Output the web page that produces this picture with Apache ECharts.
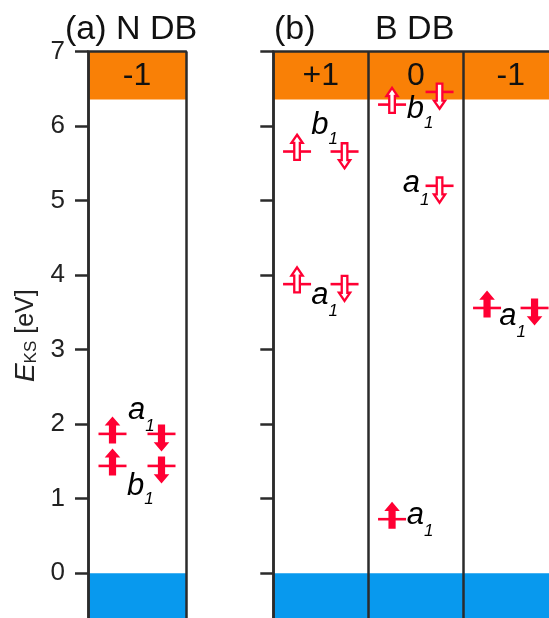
<!DOCTYPE html>
<html>
<head>
<meta charset="utf-8">
<script src="https://cdn.jsdelivr.net/npm/echarts@6/dist/echarts.min.js"></script>
<style>
  html, body { margin: 0; padding: 0; background: #fff; }
  #chart { width: 549px; height: 618px; }
</style>
</head>
<body>
<div id="chart"></div>
<script>
// Kohn–Sham single-particle levels of the N and B dangling-bond defects
const yTicks = [0, 1, 2, 3, 4, 5, 6, 7];
const cbEdge = 6.36;   // conduction band minimum, eV
const vbEdge = 0;      // valence band maximum, eV
const chargesN = ['-1'];
const chargesB = ['+1', '0', '-1'];

// N DB levels: charge column, spin channel, energy (eV), occupied
const nLevelCol  = [0, 0, 0, 0];
const nLevelSpin = ['up', 'up', 'down', 'down'];
const nLevelE    = [1.87, 1.44, 1.87, 1.44];
const nLevelOcc  = [1, 1, 1, 1];

// B DB levels
const bLevelCol  = [0, 0, 0, 0, 1, 1, 1, 1, 2, 2];
const bLevelSpin = ['up', 'down', 'up', 'down', 'up', 'down', 'down', 'up', 'up', 'down'];
const bLevelE    = [5.66, 5.66, 3.88, 3.88, 6.29, 6.46, 5.20, 0.725, 3.56, 3.56];
const bLevelOcc  = [0, 0, 0, 0, 0, 0, 0, 1, 1, 1];

// orbital symmetry labels: letter, column, energy of the level they annotate
const nOrbName = ['a', 'b'];
const nOrbCol  = [0, 0];
const nOrbE    = [1.87, 1.44];
const bOrbName = ['b', 'a', 'b', 'a', 'a', 'a'];
const bOrbCol  = [0, 0, 1, 1, 1, 2];
const bOrbE    = [5.66, 3.88, 6.29, 5.20, 0.725, 3.56];

// label placement relative to column centre / level line (px)
const nOrbNudge = [[-0.5, -24], [-1.5, 20]];
const bOrbNudge = [[-1, -26], [-1, 11], [-0.5, 5], [-4.5, -2], [-0.5, -3.5], [-3, 8.5]];

const FONT = 'Arial, "Liberation Sans", Helvetica, sans-serif';
const RED = '#ff0033';
const ORANGE = '#f98006';
const BLUE = '#0899ee';
const FRAME = '#2b2b2b';

const chart = echarts.init(document.getElementById('chart'), null, { renderer: 'canvas' });

function levelData(cols, spins, es, occ) {
  return es.map((e, i) => [cols[i] + (spins[i] === 'up' ? 0.25 : 0.75), e, spins[i] === 'up' ? 1 : 0, occ[i]]);
}

function renderLevel(params, api) {
  const up = api.value(2) === 1;
  const filled = api.value(3) === 1;
  const p = api.coord([api.value(0), api.value(1)]);
  const cx = p[0], cy = p[1];
  const s = up ? -1 : 1;
  const hw = filled ? 7.8 : 5.6;
  const sw = filled ? 3.6 : 2.8;
  const tip = (filled ? 17.5 : 16.8) * s;
  const base = (filled ? 8.3 : 8.6) * s;
  const tail = (filled ? -9.5 : -8.3) * s;
  const pts = [
    [cx, cy + tip], [cx + hw, cy + base], [cx + sw, cy + base], [cx + sw, cy + tail],
    [cx - sw, cy + tail], [cx - sw, cy + base], [cx - hw, cy + base]
  ];
  return {
    type: 'group',
    children: [
      { type: 'line', shape: { x1: cx - 14, y1: cy, x2: cx + 14, y2: cy },
        style: { stroke: RED, lineWidth: 2.6 } },
      { type: 'polygon', shape: { points: pts },
        style: filled ? { fill: RED } : { fill: '#fff', stroke: RED, lineWidth: 2.3, lineJoin: 'miter' } }
    ]
  };
}

function renderBands(labels) {
  return function (params, api) {
    const c = api.value(0);
    const tl = api.coord([c, 7]);
    const br = api.coord([c + 1, cbEdge]);
    const vt = api.coord([c, vbEdge]);
    const vb = api.coord([c + 1, -1]);
    return {
      type: 'group',
      children: [
        { type: 'rect', shape: { x: tl[0], y: tl[1], width: br[0] - tl[0], height: br[1] - tl[1] },
          style: { fill: ORANGE } },
        { type: 'rect', shape: { x: vt[0], y: vt[1], width: vb[0] - vt[0], height: vb[1] - vt[1] },
          style: { fill: BLUE } },
        { type: 'text', x: (tl[0] + br[0]) / 2, y: (tl[1] + br[1]) / 2 + 1,
          style: { text: labels[c], fontSize: 32, fontFamily: FONT, fill: '#111',
                   align: 'center', verticalAlign: 'middle' } }
      ]
    };
  };
}

function renderOrbital(names, nudges) {
  return function (params, api) {
    const i = params.dataIndex;
    const p = api.coord([api.value(0) + 0.5, api.value(1)]);
    const x = p[0] + nudges[i][0];
    const y = p[1] + nudges[i][1];
    const subDy = names[i] === 'a' ? 16 : 13.5;
    return {
      type: 'group',
      children: [
        { type: 'text', x: x, y: y,
          style: { text: names[i], fontSize: 31, fontStyle: 'italic', fontFamily: FONT,
                   fill: '#000', align: 'center', verticalAlign: 'middle' } },
        { type: 'text', x: x + 13.5, y: y + subDy,
          style: { text: '1', fontSize: 17, fontStyle: 'italic', fontFamily: FONT,
                   fill: '#000', align: 'center', verticalAlign: 'middle' } }
      ]
    };
  };
}

const axisLineStyle = { color: FRAME, width: 2.5 };

function xAxisFor(gridIndex, n) {
  return {
    gridIndex, type: 'value', min: 0, max: n, interval: 1, position: 'top', z: 10,
    axisLine: { show: true, onZero: false, lineStyle: axisLineStyle },
    axisTick: { show: false }, axisLabel: { show: false },
    splitLine: { show: true, showMinLine: true, showMaxLine: true, lineStyle: axisLineStyle }
  };
}

function yAxisFor(gridIndex, withLabels) {
  const ax = {
    gridIndex, type: 'value', min: -1, max: 7, interval: 1, z: 10,
    axisLine: { show: true, onZero: false, lineStyle: axisLineStyle },
    axisTick: { show: true, inside: false, length: 13, lineStyle: axisLineStyle },
    axisLabel: {
      show: withLabels, margin: 23, fontSize: 26, fontFamily: FONT, color: '#222',
      formatter: v => (yTicks.indexOf(v) >= 0 ? String(v) : '')
    },
    splitLine: { show: false }
  };
  if (withLabels) {
    ax.name = '{e|E}{k|KS} [eV]';
    ax.nameLocation = 'middle';
    ax.nameRotate = 90;
    ax.nameGap = 48;
    ax.nameTextStyle = {
      fontSize: 25, fontFamily: FONT, color: '#222', padding: [0, 0, 0, 28],
      rich: {
        e: { fontSize: 28, fontStyle: 'italic', fontFamily: FONT, color: '#222' },
        k: { fontSize: 17, fontFamily: FONT, color: '#222', verticalAlign: 'bottom', padding: [6, 0, 0, 0] }
      }
    };
  }
  return ax;
}

const titleStyle = { fontSize: 34, fontWeight: 'normal', fontFamily: FONT, color: '#111' };

chart.setOption({
  animation: false,
  backgroundColor: '#fff',
  title: [
    { text: '(a) N DB', left: 60, top: 8, textStyle: titleStyle },
    { text: '(b)', left: 269, top: 8, textStyle: titleStyle },
    { text: 'B DB', left: 370, top: 8, textStyle: titleStyle }
  ],
  grid: [
    { left: 88, top: 51.7, width: 98, height: 596, outerBoundsMode: 'none' },
    { left: 273.3, top: 51.7, width: 285, height: 596, outerBoundsMode: 'none' }
  ],
  xAxis: [xAxisFor(0, chargesN.length), xAxisFor(1, chargesB.length)],
  yAxis: [yAxisFor(0, true), yAxisFor(1, false)],
  series: [
    { type: 'custom', xAxisIndex: 0, yAxisIndex: 0, z: 1, silent: true,
      data: chargesN.map((c, i) => [i]), encode: { x: 0 }, renderItem: renderBands(chargesN) },
    { type: 'custom', xAxisIndex: 1, yAxisIndex: 1, z: 1, silent: true,
      data: chargesB.map((c, i) => [i]), encode: { x: 0 }, renderItem: renderBands(chargesB) },
    { type: 'custom', xAxisIndex: 0, yAxisIndex: 0, z: 5, silent: true,
      data: levelData(nLevelCol, nLevelSpin, nLevelE, nLevelOcc), encode: { x: 0, y: 1 }, renderItem: renderLevel },
    { type: 'custom', xAxisIndex: 1, yAxisIndex: 1, z: 5, silent: true,
      data: levelData(bLevelCol, bLevelSpin, bLevelE, bLevelOcc), encode: { x: 0, y: 1 }, renderItem: renderLevel },
    { type: 'custom', xAxisIndex: 0, yAxisIndex: 0, z: 6, silent: true,
      data: nOrbE.map((e, i) => [nOrbCol[i], e]), encode: { x: 0, y: 1 }, renderItem: renderOrbital(nOrbName, nOrbNudge) },
    { type: 'custom', xAxisIndex: 1, yAxisIndex: 1, z: 6, silent: true,
      data: bOrbE.map((e, i) => [bOrbCol[i], e]), encode: { x: 0, y: 1 }, renderItem: renderOrbital(bOrbName, bOrbNudge) }
  ]
});
</script>
</body>
</html>
